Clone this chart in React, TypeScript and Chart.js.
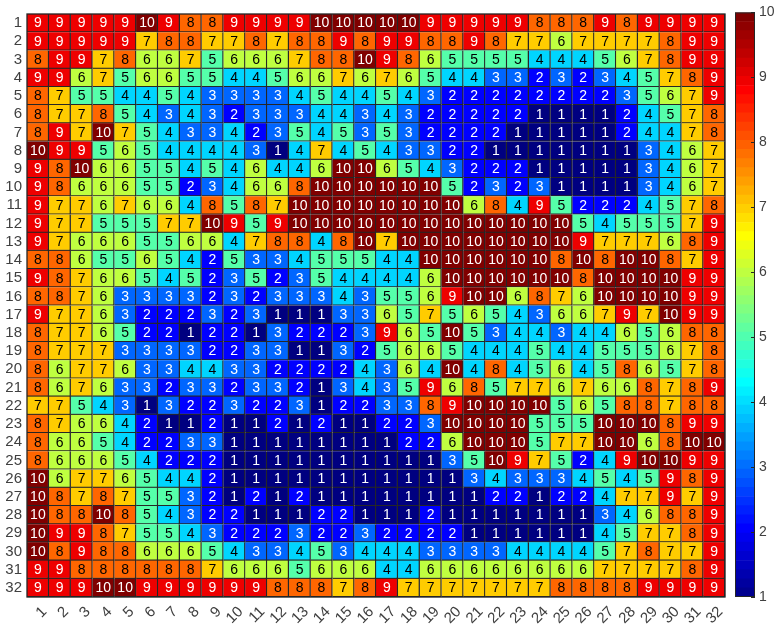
import React, { useEffect, useRef } from "react";
import { Chart, registerables } from "chart.js";

Chart.register(...registerables);

const rowLabels = Array.from({ length: 32 }, (_, i) => String(i + 1));
const colLabels = rowLabels;
const colorbarTicks = [1, 2, 3, 4, 5, 6, 7, 8, 9, 10];

const row01 = [9,9,9,9,9,10,9,8,8,9,9,9,9,10,10,10,10,10,9,9,9,9,9,8,8,8,9,8,9,9,9,9];
const row02 = [9,9,9,9,9,7,8,8,7,7,8,7,8,8,9,8,9,9,8,8,9,8,7,7,6,7,7,7,7,8,9,9];
const row03 = [8,9,9,7,8,6,6,7,5,6,6,6,7,8,8,10,9,8,6,5,5,5,5,4,4,4,5,6,7,8,9,9];
const row04 = [9,9,6,7,5,6,6,5,5,4,4,5,6,6,7,6,7,6,5,4,4,3,3,2,3,2,3,4,5,7,8,9];
const row05 = [8,7,5,5,4,4,5,4,3,3,3,3,4,5,4,4,5,4,3,2,2,2,2,2,2,2,2,3,5,6,7,9];
const row06 = [8,7,7,8,5,4,3,4,3,2,3,3,3,4,4,3,4,3,2,2,2,2,2,1,1,1,1,2,4,5,7,8];
const row07 = [8,9,7,10,7,5,4,3,3,4,2,3,5,4,5,3,5,3,2,2,2,2,1,1,1,1,1,2,4,4,7,8];
const row08 = [10,9,9,5,6,5,4,4,4,4,3,1,4,7,4,5,4,3,3,2,2,1,1,1,1,1,1,1,3,4,6,7];
const row09 = [9,8,10,6,6,5,5,4,5,4,6,4,4,6,10,10,6,5,4,3,2,2,2,1,1,1,1,1,3,4,6,7];
const row10 = [9,8,6,6,6,5,5,2,3,4,6,6,8,10,10,10,10,10,10,5,2,3,2,3,1,1,1,1,3,4,6,7];
const row11 = [9,7,7,6,7,6,6,4,8,5,8,7,10,10,10,10,10,10,10,10,6,8,4,9,5,2,2,2,4,5,7,8];
const row12 = [9,7,7,5,5,5,7,7,10,9,5,9,10,10,10,10,10,10,10,10,10,10,10,10,10,5,4,5,5,5,7,9];
const row13 = [9,7,6,6,6,5,5,6,6,4,7,8,8,4,8,10,7,10,10,10,10,10,10,10,10,9,7,7,7,6,8,9];
const row14 = [8,8,6,5,5,6,5,4,2,5,3,3,4,5,5,5,4,4,10,10,10,10,10,10,8,10,8,10,10,8,7,9];
const row15 = [9,8,7,6,6,5,4,5,2,3,5,2,3,5,4,4,4,4,6,10,10,10,10,10,10,8,10,10,10,10,9,9];
const row16 = [8,8,7,6,3,3,3,3,2,3,2,3,3,3,4,3,5,5,6,9,10,10,6,8,7,6,10,10,10,10,9,9];
const row17 = [9,7,7,6,3,2,2,2,3,2,3,1,1,1,3,3,6,5,7,5,6,5,4,3,6,6,7,9,7,10,9,9];
const row18 = [8,7,7,6,5,2,2,1,2,2,1,3,2,2,2,3,9,6,5,10,5,3,4,4,3,4,4,6,5,6,8,8];
const row19 = [8,7,7,7,3,3,3,3,2,2,3,3,1,1,3,2,5,6,6,5,4,4,4,5,4,4,5,5,5,6,7,8];
const row20 = [8,6,7,7,6,3,3,4,4,3,3,2,2,2,2,4,3,6,4,10,4,8,4,5,6,4,5,8,6,5,7,8];
const row21 = [8,6,7,6,3,3,2,3,3,2,3,3,2,1,3,4,3,5,9,6,8,5,7,7,6,7,6,6,8,7,8,9];
const row22 = [7,7,5,4,3,1,3,2,2,3,2,2,3,1,2,2,3,3,8,9,10,10,10,10,5,6,5,8,8,7,8,8];
const row23 = [8,7,6,6,4,2,1,1,2,1,1,2,1,2,1,1,2,2,3,10,10,10,10,5,5,5,10,10,10,8,9,9];
const row24 = [8,6,6,5,4,2,2,3,3,1,1,1,1,1,1,1,1,2,2,6,10,10,10,5,7,7,10,10,6,8,10,10];
const row25 = [8,6,6,6,5,4,2,2,2,1,1,1,1,1,1,1,1,1,1,3,5,10,9,7,5,2,4,9,10,10,9,9];
const row26 = [10,6,7,7,6,5,4,4,2,1,1,1,1,1,1,1,1,1,1,1,3,4,3,3,3,4,5,4,5,9,8,9];
const row27 = [10,8,7,8,7,5,5,3,2,1,2,1,2,1,1,1,1,1,1,1,1,2,2,1,2,2,4,7,7,9,7,9];
const row28 = [10,8,8,10,8,5,4,3,2,2,1,1,1,2,2,1,1,1,2,1,1,1,1,1,1,1,3,4,6,8,8,9];
const row29 = [10,9,9,8,7,5,5,4,3,2,2,2,3,2,2,3,2,2,2,2,1,1,1,1,1,1,4,5,7,7,8,9];
const row30 = [10,8,9,8,8,6,6,6,5,4,3,3,4,5,3,4,4,4,3,3,3,3,4,4,4,4,5,7,8,7,7,9];
const row31 = [9,9,8,8,8,8,8,8,7,6,6,6,5,6,6,6,4,4,6,6,6,6,6,6,6,6,7,7,7,7,8,9];
const row32 = [9,9,9,10,10,9,9,9,9,9,9,8,8,8,7,8,9,7,7,7,7,7,7,7,8,8,8,8,9,9,9,9];

const matrix = [
  row01, row02, row03, row04, row05, row06, row07, row08,
  row09, row10, row11, row12, row13, row14, row15, row16,
  row17, row18, row19, row20, row21, row22, row23, row24,
  row25, row26, row27, row28, row29, row30, row31, row32,
];

const cellColors = ["#000080", "#0000ff", "#0066ff", "#00d5ff", "#55ffaa", "#bfff40", "#ffcc00", "#ff6600", "#ee0000", "#800000"];
const whiteValues = [1, 2, 3, 9, 10];

const LEVELS = 64;
const V_MIN = 1;
const V_MAX = 10;
const TEXT = "#404040";
const EDGE = "#262626";
const FONT = "'Liberation Sans', Arial, sans-serif";

// MATLAB-style "jet" colour map with 64 levels, for the colour bar.
function jet(level: number): string {
  const t = (level + 1) / LEVELS;
  const ramp = (c: number) => Math.max(0, Math.min(1, 1.5 - Math.abs(4 * t - c)));
  const to = (x: number) => Math.round(x * 255);
  return `rgb(${to(ramp(3))},${to(ramp(2))},${to(ramp(1))})`;
}

const cellText = {
  id: "cellText",
  afterDatasetsDraw(chart: any) {
    const ctx = chart.ctx;
    ctx.save();
    ctx.font = `14px ${FONT}`;
    ctx.textAlign = "center";
    ctx.textBaseline = "middle";
    chart.data.datasets.forEach((ds: any, c: number) => {
      chart.getDatasetMeta(c).data.forEach((el: any, r: number) => {
        const v = matrix[r][c];
        const p = el.getCenterPoint();
        ctx.fillStyle = whiteValues.includes(v) ? "#ffffff" : "#000000";
        ctx.fillText(String(v), p.x, p.y + 0.5);
      });
    });
    const a = chart.chartArea;
    ctx.strokeStyle = EDGE;
    ctx.lineWidth = 1.3;
    ctx.strokeRect(a.left, a.top, a.right - a.left, a.bottom - a.top);
    ctx.restore();
  },
};

const colorbarFrame = {
  id: "colorbarFrame",
  afterDatasetsDraw(chart: any) {
    const ctx = chart.ctx;
    const a = chart.chartArea;
    const y = chart.scales.y;
    ctx.save();
    ctx.strokeStyle = "#262626";
    ctx.lineWidth = 1;
    ctx.strokeRect(a.left + 0.5, a.top + 0.5, a.right - a.left - 1, a.bottom - a.top - 1);
    colorbarTicks.forEach((t) => {
      const py = Math.round(y.getPixelForValue(t)) + 0.5;
      ctx.beginPath();
      ctx.moveTo(a.right - 4, py);
      ctx.lineTo(a.right, py);
      ctx.stroke();
    });
    ctx.restore();
  },
};

export default function App() {
  const mainRef = useRef<HTMLCanvasElement>(null);
  const barRef = useRef<HTMLCanvasElement>(null);

  useEffect(() => {
    const main = new Chart(mainRef.current!, {
      type: "bar",
      plugins: [cellText],
      data: {
        labels: rowLabels,
        datasets: colLabels.map((_, c) => ({
          label: colLabels[c],
          data: matrix.map(() => [c + 0.5, c + 1.5]),
          backgroundColor: matrix.map((row) => cellColors[row[c] - 1]),
          borderColor: EDGE,
          borderWidth: { top: 0, left: 0, right: 1.3, bottom: 1.3 },
          borderSkipped: false,
          grouped: false,
          barPercentage: 1,
          categoryPercentage: 1,
          clip: false,
        })),
      } as any,
      options: {
        indexAxis: "y",
        animation: false,
        responsive: false,
        events: [],
        layout: { padding: { top: 8, right: 52, left: 0, bottom: 0 } },
        plugins: { legend: { display: false }, tooltip: { enabled: false } },
        scales: {
          x: {
            type: "linear",
            min: 0.5,
            max: 32.5,
            grid: { display: false, drawTicks: false },
            border: { display: false },
            afterBuildTicks: (s: any) => {
              s.ticks = colLabels.map((l) => ({ value: Number(l) }));
            },
            afterFit: (s: any) => {
              s.height = 29;
            },
            ticks: {
              autoSkip: false,
              minRotation: 45,
              maxRotation: 45,
              color: TEXT,
              padding: 6,
              labelOffset: 6.5,
              font: { family: FONT, size: 15 },
              callback: (v: any) => String(v),
            },
          },
          y: {
            type: "category",
            grid: { display: false, drawTicks: false },
            border: { display: false },
            afterFit: (s: any) => {
              s.width = 27;
            },
            ticks: {
              autoSkip: false,
              color: TEXT,
              padding: 5,
              font: { family: FONT, size: 15 },
            },
          },
        },
      } as any,
    });

    const levels = Array.from({ length: LEVELS }, (_, i) => i);
    const step = (V_MAX - V_MIN) / LEVELS;
    const bar = new Chart(barRef.current!, {
      type: "bar",
      plugins: [colorbarFrame],
      data: {
        labels: [""],
        datasets: levels.map((i) => ({
          data: [[V_MIN + i * step, V_MIN + (i + 1) * step]],
          backgroundColor: jet(i),
          borderWidth: 0,
          grouped: false,
          barPercentage: 1,
          categoryPercentage: 1,
        })),
      } as any,
      options: {
        animation: false,
        responsive: false,
        events: [],
        layout: { padding: { top: 8, right: 0, left: 10, bottom: 29 } },
        plugins: { legend: { display: false }, tooltip: { enabled: false } },
        scales: {
          x: { display: false },
          y: {
            position: "right",
            type: "linear",
            min: V_MIN,
            max: V_MAX,
            grid: { display: false, drawTicks: false },
            border: { display: false },
            afterBuildTicks: (s: any) => {
              s.ticks = colorbarTicks.map((value) => ({ value }));
            },
            afterFit: (s: any) => {
              s.width = 22;
            },
            ticks: {
              color: TEXT,
              padding: 4,
              autoSkip: false,
              font: { family: FONT, size: 14 },
            },
          },
        },
      } as any,
    });

    return () => {
      main.destroy();
      bar.destroy();
    };
  }, []);

  return (
    <div style={{ position: "fixed", left: 0, top: 0, width: 777, height: 626, background: "#fff" }}>
      <canvas ref={mainRef} width={777} height={626} style={{ position: "absolute", left: 0, top: 0 }} />
      <canvas ref={barRef} width={52} height={626} style={{ position: "absolute", left: 725, top: 0 }} />
    </div>
  );
}
